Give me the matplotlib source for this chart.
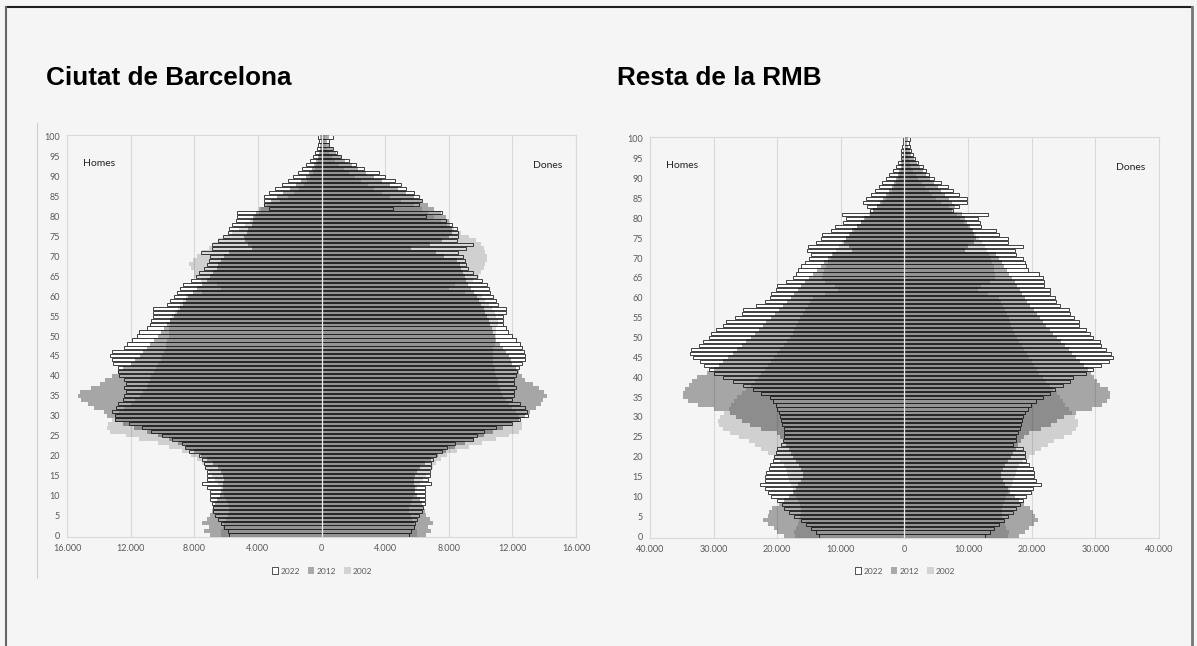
import numpy as np
import matplotlib
matplotlib.use("Agg")
import matplotlib.pyplot as plt
from matplotlib.patches import Patch
from matplotlib.lines import Line2D

# Edats 0..100 i anys de la llegenda
edats = np.arange(0, 101)
anys = ["2022", "2012", "2002"]

# Ciutat de Barcelona (milers de persones)
bcn_homes_2022 = [5.8, 5.9, 6.1, 6.3, 6.5, 6.7, 6.8, 6.8, 6.9, 7.0,
                  7.0, 7.0, 7.2, 7.5, 7.2, 7.2, 7.2, 7.3, 7.4, 7.5,
                  7.7, 8.3, 8.6, 8.8, 9.4, 10.0, 10.7, 11.3, 12.1, 13.0,
                  13.0, 13.2, 12.9, 12.8, 12.5, 12.4, 12.3, 12.4, 12.3, 12.4,
                  12.7, 12.8, 12.8, 13.1, 13.2, 13.3, 13.2, 12.4, 12.2, 11.9,
                  11.6, 11.5, 11.0, 10.8, 10.7, 10.6, 10.6, 10.6, 9.7, 9.5,
                  9.3, 9.1, 8.9, 8.7, 8.2, 7.9, 7.7, 7.4, 7.2, 7.1,
                  7.0, 7.6, 6.9, 6.9, 6.5, 6.2, 5.9, 5.8, 5.6, 5.4,
                  5.3, 5.3, 3.3, 3.6, 3.6, 3.6, 3.3, 2.9, 2.5, 2.1,
                  1.8, 1.5, 1.2, 0.95, 0.75, 0.55, 0.4, 0.3, 0.2, 0.15,
                  0.25]
bcn_homes_2012 = [7.0, 7.4, 7.1, 7.5, 7.2, 7.0, 6.9, 6.8, 6.7, 6.6,
                  6.4, 6.3, 6.2, 6.2, 6.1, 6.2, 6.3, 6.5, 6.8, 7.2,
                  7.6, 8.0, 8.5, 9.0, 9.6, 10.3, 11.0, 11.8, 12.5, 13.0,
                  13.5, 13.7, 14.3, 14.7, 15.1, 15.3, 15.2, 14.5, 13.9, 13.6,
                  13.2, 12.8, 12.5, 12.0, 11.7, 11.4, 11.2, 11.0, 10.8, 10.5,
                  10.3, 10.1, 9.9, 9.7, 9.5, 9.3, 9.1, 8.9, 8.7, 8.5,
                  8.4, 8.1, 7.8, 7.5, 7.2, 7.0, 6.8, 6.6, 6.5, 6.3,
                  6.1, 5.8, 4.4, 4.6, 4.8, 4.9, 4.7, 4.6, 4.4, 4.3,
                  4.3, 4.1, 3.9, 3.6, 3.2, 2.8, 2.4, 2.0, 1.6, 1.3,
                  1.0, 0.8, 0.6, 0.45, 0.33, 0.24, 0.17, 0.12, 0.08, 0.05,
                  0.08]
bcn_homes_2002 = [6.3, 6.3, 6.2, 6.1, 6.0, 5.9, 5.8, 5.8, 5.9, 6.0,
                  6.1, 6.2, 6.3, 6.5, 6.7, 6.9, 7.1, 7.3, 7.5, 7.8,
                  8.2, 8.8, 9.6, 10.3, 11.5, 12.3, 13.3, 13.5, 13.4, 13.2,
                  13.0, 12.7, 12.4, 12.0, 11.7, 11.4, 11.2, 11.0, 10.9, 10.8,
                  10.7, 10.5, 10.4, 10.3, 10.1, 10.0, 9.9, 9.8, 9.8, 9.7,
                  9.6, 9.6, 9.6, 9.5, 9.5, 9.4, 9.2, 9.0, 8.9, 8.7,
                  8.5, 7.5, 6.3, 6.6, 7.6, 8.0, 8.0, 8.2, 8.3, 8.1,
                  7.8, 7.5, 7.1, 6.8, 6.5, 6.1, 5.6, 5.2, 4.8, 4.5,
                  4.2, 3.9, 3.8, 3.4, 2.6, 2.1, 1.7, 1.4, 1.1, 0.9,
                  0.7, 0.55, 0.42, 0.32, 0.24, 0.17, 0.12, 0.08, 0.06, 0.04,
                  0.05]
bcn_dones_2022 = [5.5, 5.6, 5.8, 5.9, 6.0, 6.1, 6.3, 6.4, 6.5, 6.5,
                  6.5, 6.5, 6.5, 6.9, 6.7, 6.8, 6.8, 6.9, 6.9, 7.0,
                  7.2, 7.6, 7.9, 8.4, 9.5, 9.8, 10.2, 11.0, 12.0, 12.5,
                  13.0, 12.9, 12.8, 12.5, 12.0, 12.1, 12.1, 12.2, 12.1, 12.1,
                  12.2, 12.3, 12.4, 12.6, 12.8, 12.8, 12.7, 12.6, 12.5, 12.2,
                  12.0, 11.7, 11.6, 11.4, 11.4, 11.4, 11.6, 11.6, 11.1, 11.0,
                  10.8, 10.6, 10.5, 10.4, 10.1, 9.8, 9.5, 9.2, 9.1, 9.0,
                  8.9, 8.6, 9.1, 9.5, 8.5, 8.6, 8.6, 8.5, 8.2, 7.8,
                  6.6, 7.6, 4.5, 6.1, 6.3, 6.1, 5.8, 5.3, 5.0, 4.6,
                  4.0, 3.6, 2.7, 2.2, 1.75, 1.25, 0.95, 0.75, 0.5, 0.45,
                  0.7]
bcn_dones_2012 = [6.6, 6.9, 6.7, 7.0, 6.8, 6.6, 6.5, 6.4, 6.3, 6.2,
                  6.0, 5.9, 5.9, 5.8, 5.8, 5.9, 6.0, 6.2, 6.5, 6.9,
                  7.3, 7.8, 8.4, 9.0, 9.6, 10.2, 10.8, 11.4, 12.0, 12.4,
                  12.8, 13.1, 13.5, 13.8, 13.9, 14.2, 14.0, 13.7, 13.3, 12.8,
                  12.6, 12.4, 12.2, 12.0, 11.9, 11.8, 11.6, 11.4, 11.2, 11.0,
                  10.9, 10.8, 10.7, 10.6, 10.5, 10.4, 10.3, 10.2, 10.0, 9.9,
                  9.8, 9.6, 9.4, 9.2, 9.1, 9.0, 8.9, 8.8, 8.7, 8.5,
                  7.7, 7.2, 5.6, 6.8, 7.6, 8.0, 8.2, 8.2, 8.1, 8.0,
                  7.8, 7.5, 7.1, 6.7, 6.3, 5.8, 5.3, 4.8, 4.3, 3.8,
                  3.3, 2.8, 2.3, 1.9, 1.5, 1.2, 0.9, 0.7, 0.5, 0.35,
                  0.5]
bcn_dones_2002 = [6.0, 6.0, 5.9, 5.8, 5.7, 5.6, 5.5, 5.5, 5.6, 5.7,
                  5.8, 5.9, 6.0, 6.2, 6.4, 6.6, 6.8, 7.0, 7.2, 7.5,
                  7.9, 8.5, 9.3, 10.1, 11.0, 11.8, 12.4, 12.6, 12.6, 12.5,
                  12.4, 12.2, 12.0, 11.8, 11.6, 11.4, 11.3, 11.2, 11.1, 11.1,
                  11.0, 10.9, 10.9, 10.8, 10.8, 10.8, 10.8, 10.8, 10.9, 10.9,
                  11.0, 11.0, 11.0, 11.1, 11.1, 11.0, 10.9, 10.7, 10.5, 10.3,
                  10.1, 9.0, 8.0, 8.4, 9.5, 9.9, 10.0, 10.2, 10.3, 10.4,
                  10.4, 10.3, 10.2, 10.0, 9.7, 9.3, 8.8, 8.3, 7.9, 7.5,
                  7.1, 6.7, 6.3, 5.8, 5.0, 4.3, 3.8, 3.3, 2.9, 2.5,
                  2.1, 1.7, 1.4, 1.1, 0.85, 0.65, 0.5, 0.37, 0.27, 0.19,
                  0.25]

# Resta de la RMB (milers de persones)
rmb_homes_2022 = [13.4, 13.9, 14.7, 15.5, 16.3, 17.3, 18.1, 18.9, 19.2, 20.0,
                  21.0, 21.5, 21.9, 22.7, 22.0, 22.0, 21.8, 21.3, 21.2, 20.7,
                  20.5, 20.2, 20.0, 19.4, 19.1, 18.9, 18.9, 19.0, 19.3, 19.4,
                  19.6, 19.8, 20.0, 20.2, 20.6, 21.2, 22.5, 23.8, 25.4, 27.0,
                  28.6, 30.0, 30.7, 31.5, 32.2, 33.3, 33.7, 33.5, 32.3, 31.7,
                  30.7, 30.4, 29.6, 28.6, 28.0, 26.7, 25.5, 25.4, 23.4, 22.0,
                  21.2, 21.0, 20.2, 20.0, 18.6, 17.6, 17.1, 16.8, 16.3, 15.7,
                  15.0, 14.7, 15.4, 15.1, 13.9, 13.1, 12.9, 11.5, 10.9, 9.7,
                  9.2, 9.9, 5.5, 5.9, 6.6, 6.0, 5.2, 4.7, 4.0, 3.5,
                  2.9, 2.4, 1.8, 1.4, 1.0, 0.6, 0.5, 0.5, 0.35, 0.25,
                  0.3]
rmb_homes_2012 = [19.0, 20.0, 20.5, 21.5, 22.3, 21.5, 21.3, 20.8, 19.8, 19.0,
                  18.2, 17.5, 17.0, 16.7, 16.3, 16.0, 16.0, 16.3, 16.6, 17.0,
                  17.5, 17.8, 18.2, 18.6, 19.0, 19.5, 20.0, 22.5, 24.3, 25.5,
                  26.5, 27.5, 30.0, 32.5, 34.0, 34.8, 34.8, 34.5, 33.9, 33.4,
                  32.6, 31.0, 30.0, 29.2, 28.5, 27.8, 27.0, 26.3, 25.6, 24.9,
                  24.2, 23.5, 22.9, 22.3, 21.7, 21.0, 20.3, 19.7, 19.1, 18.4,
                  17.8, 17.3, 16.8, 16.2, 15.6, 15.0, 14.4, 13.8, 13.2, 12.6,
                  12.0, 11.4, 8.2, 8.7, 9.5, 9.2, 8.7, 8.2, 7.4, 6.8,
                  6.3, 5.5, 5.0, 4.4, 3.9, 3.4, 2.9, 2.4, 2.0, 1.6,
                  1.3, 1.0, 0.8, 0.6, 0.5, 0.4, 0.3, 0.2, 0.15, 0.1,
                  0.15]
rmb_homes_2002 = [17.2, 17.4, 17.0, 16.8, 16.6, 16.4, 16.3, 16.3, 16.5, 16.8,
                  17.0, 17.3, 17.6, 17.9, 18.1, 18.3, 18.5, 18.7, 19.0, 19.6,
                  20.5, 21.5, 22.5, 23.5, 24.5, 26.0, 27.5, 28.5, 29.2, 29.3,
                  29.0, 28.3, 27.6, 27.2, 26.8, 26.3, 25.6, 24.9, 24.2, 23.5,
                  23.0, 22.5, 22.0, 21.5, 21.0, 20.5, 20.0, 19.5, 19.0, 18.5,
                  18.0, 17.6, 17.3, 17.0, 16.7, 16.4, 16.0, 15.6, 15.2, 14.8,
                  14.4, 12.5, 10.5, 11.0, 12.5, 13.0, 12.8, 12.6, 12.3, 12.0,
                  11.6, 11.2, 10.8, 10.3, 9.8, 9.2, 8.6, 8.0, 7.4, 6.8,
                  6.2, 5.6, 5.0, 4.4, 3.5, 2.9, 2.4, 2.0, 1.6, 1.3,
                  1.0, 0.8, 0.6, 0.45, 0.33, 0.24, 0.17, 0.12, 0.08, 0.05,
                  0.06]
rmb_dones_2022 = [12.6, 13.4, 14.1, 14.9, 15.7, 16.2, 17.0, 17.5, 18.1, 18.6,
                  19.1, 19.9, 20.2, 21.5, 20.7, 20.4, 20.3, 20.2, 19.6, 19.1,
                  18.9, 18.9, 18.6, 17.0, 17.5, 17.5, 17.8, 18.1, 18.3, 18.5,
                  18.7, 18.9, 19.4, 19.9, 20.7, 21.7, 22.8, 23.6, 24.9, 26.0,
                  26.5, 28.6, 29.6, 30.9, 32.2, 32.7, 32.5, 31.7, 30.9, 30.7,
                  29.6, 29.1, 28.6, 27.5, 27.4, 26.7, 26.0, 25.9, 24.4, 23.8,
                  23.6, 22.8, 22.8, 22.0, 22.0, 21.7, 21.1, 19.4, 19.1, 18.9,
                  18.6, 17.5, 17.3, 18.6, 16.2, 16.2, 14.8, 14.4, 12.1, 11.8,
                  11.5, 13.1, 7.6, 8.6, 9.9, 9.9, 8.6, 7.6, 6.8, 5.8,
                  4.7, 3.9, 3.4, 2.9, 2.1, 1.6, 1.3, 1.0, 0.9, 0.7,
                  0.8]
rmb_dones_2012 = [18.0, 19.0, 19.5, 20.3, 21.0, 20.5, 20.2, 19.7, 18.8, 18.0,
                  17.3, 16.6, 16.2, 15.8, 15.5, 15.2, 15.2, 15.5, 15.8, 16.2,
                  16.7, 17.1, 17.5, 17.9, 18.3, 18.8, 19.5, 21.5, 23.0, 24.0,
                  25.0, 27.0, 29.5, 31.0, 31.8, 32.3, 32.3, 32.0, 30.8, 30.2,
                  29.8, 29.3, 28.8, 28.2, 27.6, 27.0, 26.4, 25.8, 25.2, 24.6,
                  24.0, 23.4, 22.8, 22.3, 21.8, 21.3, 20.8, 20.3, 19.8, 19.3,
                  18.9, 18.5, 18.1, 17.7, 17.3, 16.9, 16.5, 16.1, 15.7, 15.3,
                  14.9, 14.4, 9.5, 10.0, 11.0, 11.2, 11.0, 10.7, 10.3, 9.9,
                  9.5, 9.0, 7.5, 8.0, 7.5, 7.0, 6.4, 5.8, 5.2, 4.6,
                  4.0, 3.4, 2.9, 2.4, 1.9, 1.5, 1.1, 0.8, 0.6, 0.4,
                  0.6]
rmb_dones_2002 = [16.2, 16.4, 16.0, 15.8, 15.6, 15.4, 15.3, 15.3, 15.5, 15.8,
                  16.0, 16.3, 16.6, 16.9, 17.1, 17.3, 17.5, 17.7, 18.0, 18.6,
                  19.5, 20.5, 21.5, 22.5, 23.5, 25.0, 26.3, 27.0, 27.3, 27.2,
                  26.8, 26.3, 25.8, 25.3, 24.9, 24.5, 24.0, 23.4, 22.8, 22.2,
                  21.7, 21.2, 20.8, 20.4, 20.0, 19.6, 19.2, 18.8, 18.4, 18.0,
                  17.7, 17.4, 17.1, 16.8, 16.6, 16.4, 16.1, 15.8, 15.5, 15.2,
                  14.9, 13.2, 11.5, 12.0, 13.5, 14.2, 14.2, 14.1, 14.0, 13.8,
                  13.6, 13.3, 13.0, 12.6, 12.2, 11.7, 11.2, 10.6, 10.0, 9.4,
                  8.8, 8.2, 7.6, 7.0, 5.8, 5.0, 4.4, 3.8, 3.2, 2.7,
                  2.2, 1.8, 1.4, 1.1, 0.85, 0.65, 0.48, 0.35, 0.25, 0.17,
                  0.22]

W, H = 1197, 646
fons = "#f5f5f5"
gris_text = "#595959"
plt.rcParams["font.family"] = ["Lato", "DejaVu Sans"]

fig = plt.figure(figsize=(W / 100, H / 100), dpi=100, facecolor=fons)


def caixa(x0, y0, x1, y1):
    # rectangle en pixels -> coordenades de figura
    return [x0 / W, 1 - y1 / H, (x1 - x0) / W, (y1 - y0) / H]


def piramide(ax, homes, dones, limit, pas):
    ax.set_facecolor(fons)
    for v in range(-limit, limit + 1, pas):
        ax.axvline(v, color="#d9d9d9", lw=0.8, zorder=1)
    # 2022: barres blanques amb contorn; 2012 i 2002 semitransparents a sobre
    estils = [dict(height=0.78, color="white", edgecolor="#333333", linewidth=0.65, zorder=2),
              dict(height=1.0, color="black", alpha=0.32, linewidth=0, zorder=3),
              dict(height=1.0, color="black", alpha=0.15, linewidth=0, zorder=4)]
    for h, d, st in zip(homes, dones, estils):
        ax.barh(edats, -np.array(h) * 1000, **st)
        ax.barh(edats, np.array(d) * 1000, **st)
    ax.axvline(0, color="#eeeeee", lw=0.9, zorder=5)
    ax.set_xlim(-limit, limit)
    ax.set_ylim(-0.5, 100.5)
    ticks = list(range(-limit, limit + 1, pas))
    ax.set_xticks(ticks)
    ax.set_xticklabels([f"{abs(v):,}".replace(",", ".") for v in ticks])
    ax.set_yticks(range(0, 101, 5))
    ax.tick_params(length=0, labelsize=6.5, colors=gris_text, pad=5)
    for s in ax.spines.values():
        s.set_color("#d9d9d9")
        s.set_linewidth(0.8)
    ax.text(0.031, 0.93, "Homes", transform=ax.transAxes, fontsize=7.5, color="#222222", va="center")
    ax.text(0.916, 0.923, "Dones", transform=ax.transAxes, fontsize=7.5, color="#222222", va="center")


ax1 = fig.add_axes(caixa(67, 135, 576, 537))
piramide(ax1, [bcn_homes_2022, bcn_homes_2012, bcn_homes_2002],
         [bcn_dones_2022, bcn_dones_2012, bcn_dones_2002], 16000, 4000)

ax2 = fig.add_axes(caixa(650, 137, 1159, 538))
piramide(ax2, [rmb_homes_2022, rmb_homes_2012, rmb_homes_2002],
         [rmb_dones_2022, rmb_dones_2012, rmb_dones_2002], 40000, 10000)

# llegendes
mans = [Patch(facecolor="white", edgecolor="#333333", linewidth=0.6),
        Patch(facecolor="#a9a9a9", edgecolor="none"),
        Patch(facecolor="#d3d3d3", edgecolor="none")]
for xc in (322, 905):
    leg = fig.legend(mans, anys, loc="center", bbox_to_anchor=(xc / W, 1 - 571 / H), ncol=3,
                     frameon=False, fontsize=6, handlelength=0.8, handleheight=0.8,
                     columnspacing=0.9, handletextpad=0.3)
    for t in leg.get_texts():
        t.set_color(gris_text)

# titols
fig.text(46 / W, 1 - 78 / H, "Ciutat de Barcelona", fontsize=18.8, fontweight="bold",
         family="Liberation Sans", va="center", color="black")
fig.text(617 / W, 1 - 78 / H, "Resta de la RMB", fontsize=18.8, fontweight="bold",
         family="Liberation Sans", va="center", color="black")

# vores de la pagina i de la imatge
fig.add_artist(Line2D([37 / W, 37 / W], [1 - 123 / H, 1 - 578 / H], color="#cfcfcf", lw=0.8))
fig.add_artist(Line2D([6 / W, 1192 / W], [1 - 7 / H, 1 - 7 / H], color="#1e1e1e", lw=1.5))
fig.add_artist(Line2D([6 / W, 6 / W], [1 - 7 / H, 0], color="#666666", lw=1.5))
fig.add_artist(Line2D([1192 / W, 1192 / W], [1 - 7 / H, 0], color="#777777", lw=2))

fig.savefig("out.png", dpi=100, facecolor=fons)
